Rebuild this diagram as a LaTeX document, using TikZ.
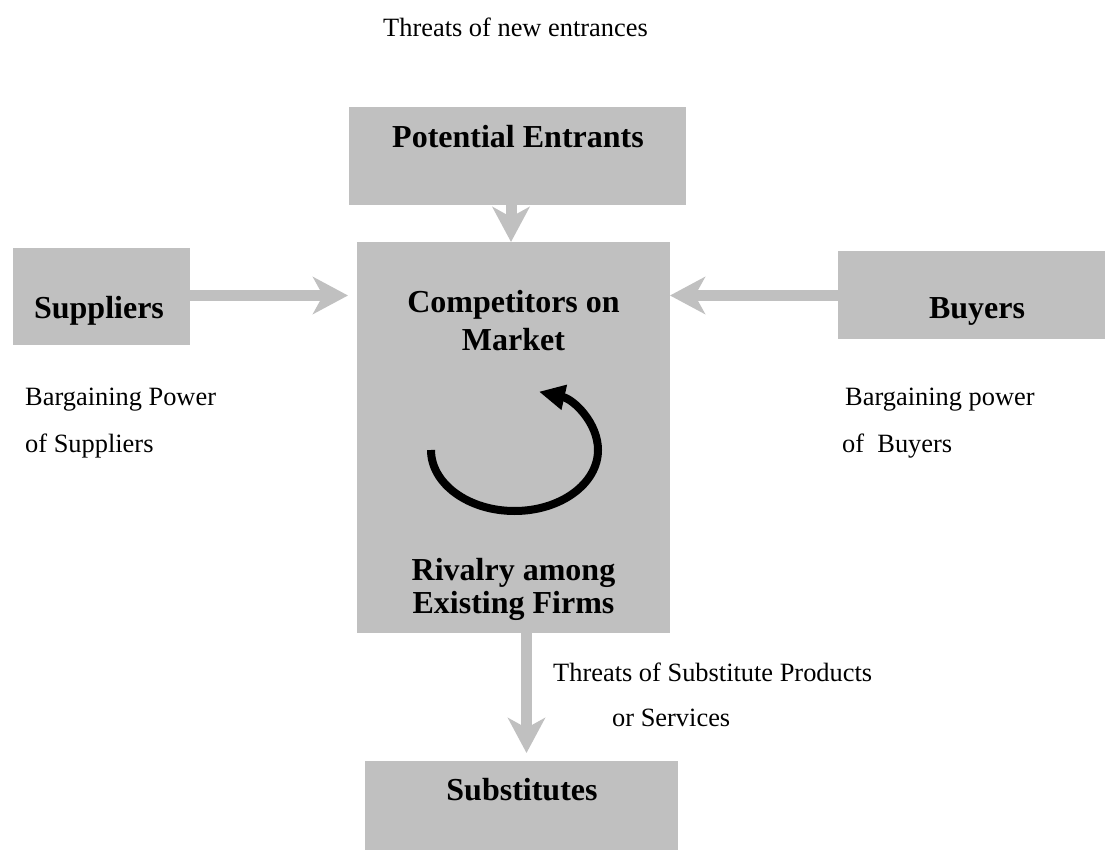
\documentclass[tikz,border=0pt]{standalone}
\usepackage{fontspec}
\setmainfont{Liberation Serif}
\usetikzlibrary{arrows.meta}
\definecolor{boxgray}{RGB}{192,192,192}
\begin{document}
\begin{tikzpicture}[x=1pt,y=-1pt,
  box/.style={fill=boxgray, draw=none, inner sep=0pt, outer sep=0pt},
  lbl/.style={font=\fontsize{26.4}{30}\selectfont, inner sep=0pt, anchor=base west},
  btxt/.style={font=\fontsize{32}{34}\selectfont\bfseries, inner sep=0pt, anchor=base},
  garrow/.style={draw=boxgray, line width=11pt, -{Stealth[length=35pt, width=37pt, inset=10pt, color=boxgray]}},
  cycarrow/.style={draw=black, line width=8pt, -{Triangle[length=26pt, width=24pt]}}]
\useasboundingbox (0,0) rectangle (1105,850);

% boxes
\node[box, minimum width=337pt, minimum height=98pt]  (ent)  at (517.5,156)   {};
\node[box, minimum width=313pt, minimum height=391pt] (comp) at (513.5,437.5) {};
\node[box, minimum width=177pt, minimum height=97pt]  (sup)  at (101.5,296.5) {};
\node[box, minimum width=267pt, minimum height=88pt]  (buy)  at (971.5,295)   {};
\node[box, minimum width=313pt, minimum height=89pt]  (sub)  at (521.5,805.5) {};

% box texts
\node[btxt] (tent)  at (518,148) {Potential Entrants};
\node[btxt] (tsup)  at (99,318)  {Suppliers};
\node[btxt] (tbuy)  at (977,318) {Buyers};
\node[btxt] (tsub)  at (522,800) {Substitutes};
\node[btxt] (tcomp1) at (513.5,312) {Competitors on};
\node[btxt] (tcomp2) at (513.5,350) {Market};
\node[btxt] (triv1) at (513.5,580) {Rivalry among};
\node[btxt] (triv2) at (513.5,613) {Existing Firms};

% labels
\node[lbl] (lnew)  at (383,37)  {Threats of new entrances};
\node[lbl] (lsup1) at (25,405)  {Bargaining Power};
\node[lbl] (lsup2) at (25,452)  {of Suppliers};
\node[lbl] (lbuy1) at (845,405) {Bargaining power};
\node[lbl] (lbuy2) at (842,452) {of\ \ Buyers};
\node[lbl] (lsub1) at (553,681) {Threats of Substitute Products};
\node[lbl] (lsub2) at (612,726) {or Services};

% connectors
\draw[garrow] ([xshift=-6.5pt]ent.south) -- ([xshift=-6.5pt]ent.south |- comp.north);
\draw[garrow, shorten >=9pt] (sup.east |- 0,295.5) -- (comp.west |- 0,295.5);
\draw[garrow] (buy.west |- 0,295.5) -- (comp.east |- 0,295.5);
\draw[garrow, shorten >=8pt] ([xshift=13pt]comp.south) -- ([xshift=13pt]comp.south |- sub.north);

% rivalry cycle
\draw[cycarrow] (431,450) arc[start angle=180, end angle=433, x radius=83.5pt, y radius=61pt];
\end{tikzpicture}
\end{document}
